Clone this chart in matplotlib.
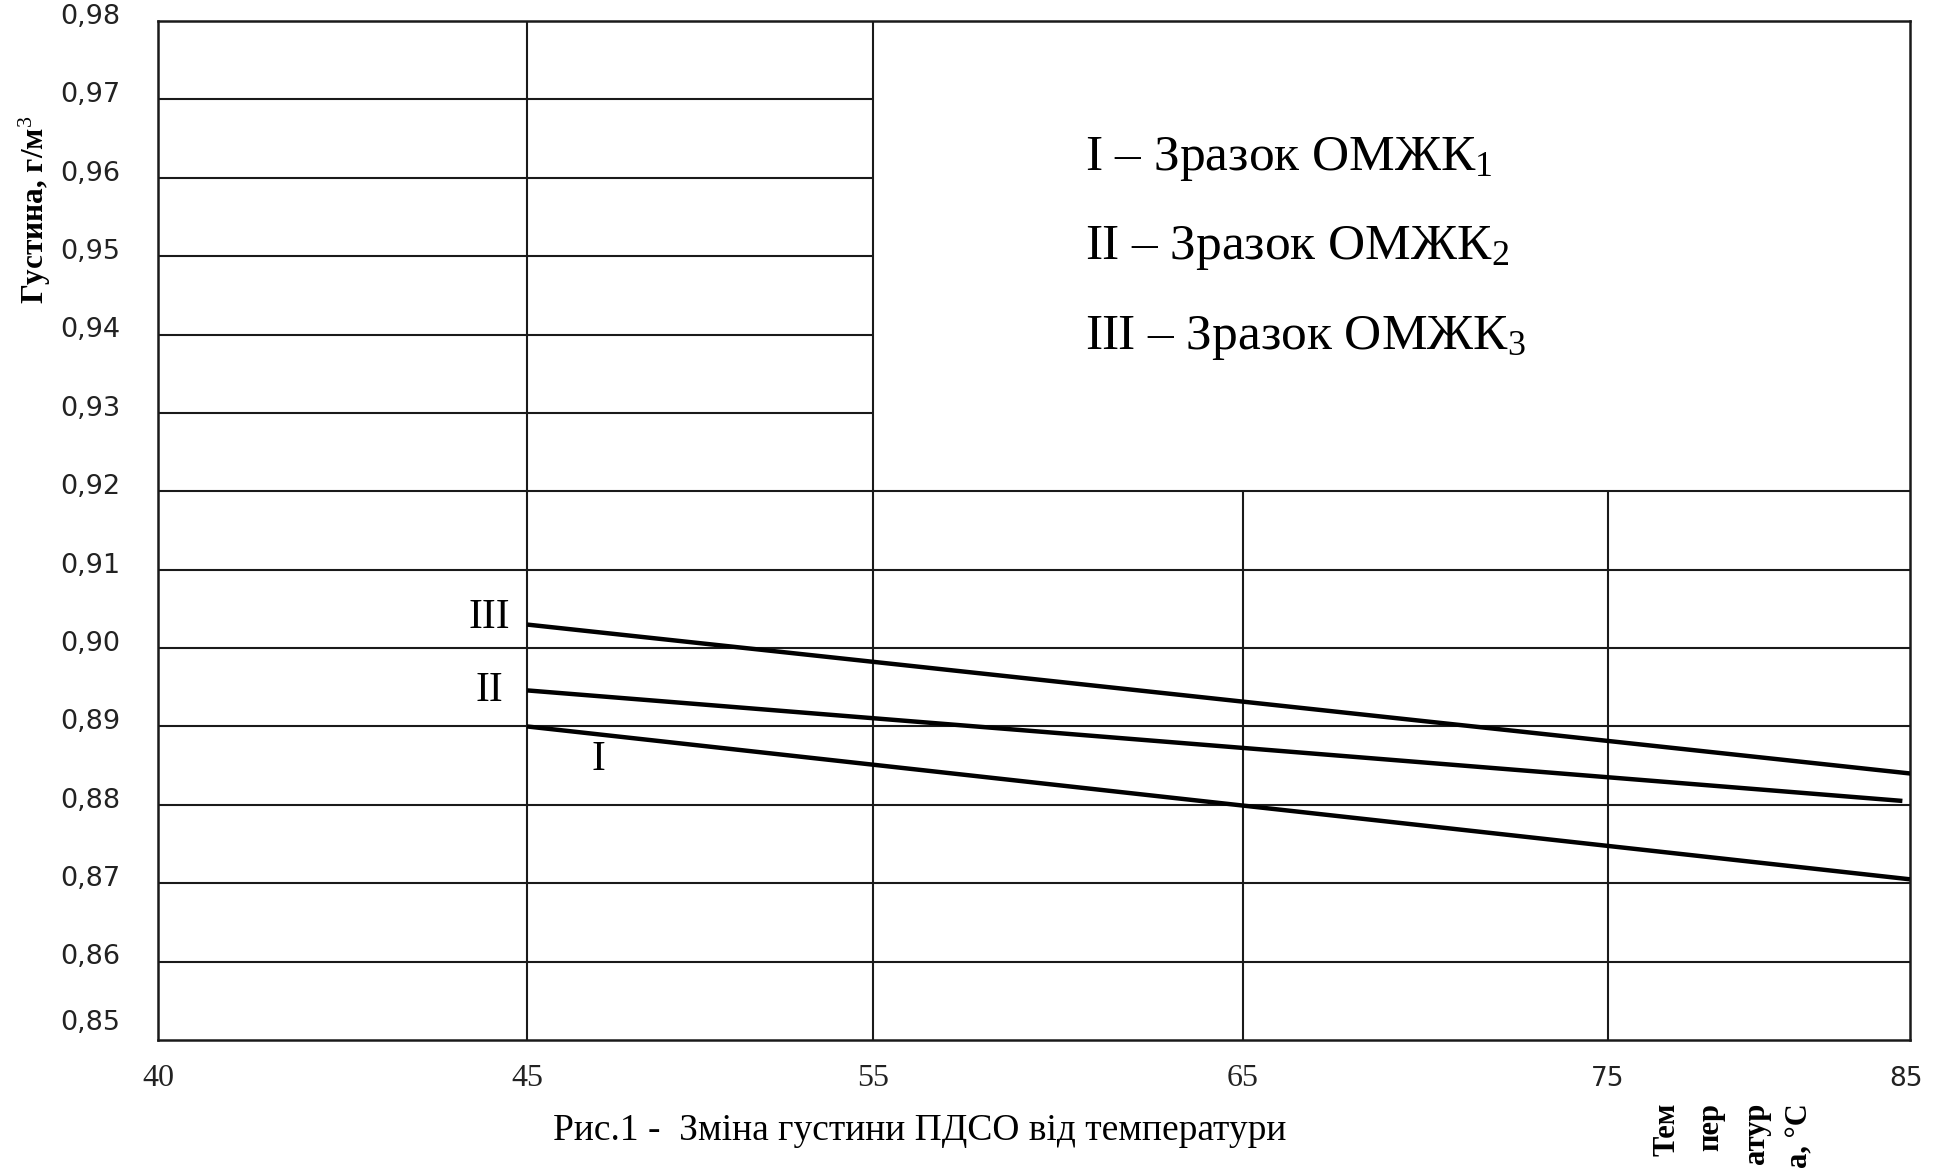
import numpy as np
import matplotlib
matplotlib.use("Agg")
import matplotlib.pyplot as plt

plt.rcParams["mathtext.fontset"] = "custom"
plt.rcParams["mathtext.rm"] = "Liberation Serif"
plt.rcParams["mathtext.it"] = "Liberation Serif:italic"

# temperature ticks and density ticks
temps = [40, 45, 55, 65, 75, 85]
densities = [0.98, 0.97, 0.96, 0.95, 0.94, 0.93, 0.92, 0.91, 0.90, 0.89, 0.88, 0.87, 0.86, 0.85]

# density curves for the three samples (start, end)
sample_names = ["I", "II", "III"]
sample_t = [[45, 85.0], [45, 84.75], [45, 85.25]]
sample_rho = [[0.8900, 0.8705], [0.8946, 0.8805], [0.9030, 0.8839]]

legend_lines = [
    "I – Зразок ОМЖК$_1$",
    "II – Зразок ОМЖК$_2$",
    "III – Зразок ОМЖК$_3$",
]

# column widths of the hand-drawn table are uneven
col_frac = [0.0, 0.2107, 0.4083, 0.6191, 0.8275, 1.0]
last_slope = (col_frac[-1] - col_frac[-2]) / (temps[-1] - temps[-2])


def fwd(x):
    x = np.asarray(x, dtype=float)
    return np.interp(x, temps, col_frac) + np.clip(x - temps[-1], 0, None) * last_slope


def inv(f):
    f = np.asarray(f, dtype=float)
    return np.interp(f, col_frac, temps) + np.clip(f - 1.0, 0, None) / last_slope


fig = plt.figure(figsize=(19.41, 11.68), dpi=100)
ax = fig.add_axes([0.0814, 0.1096, 0.9026, 0.8724])
ax.set_xscale("function", functions=(fwd, inv))
ax.set_xlim(40, 85)
ax.set_ylim(0.85, 0.98)

grid_kw = dict(color="#1a1a1a", linewidth=1.5, zorder=1)
# upper part of the table: only the left two columns are ruled
for y in densities[1:6]:
    ax.hlines(y, 40, 55, **grid_kw)
for y in densities[6:-1]:
    ax.hlines(y, 40, 85, **grid_kw)
ax.vlines([45, 55], 0.85, 0.98, **grid_kw)
ax.vlines([65, 75], 0.85, 0.92, **grid_kw)

for sp in ax.spines.values():
    sp.set_linewidth(1.8)
    sp.set_color("#1a1a1a")

ax.set_xticks([])
ax.set_yticks([])

for t, r in zip(sample_t, sample_rho):
    ax.plot(t, r, color="black", linewidth=3.2, solid_capstyle="butt", zorder=3)

# curve labels
ax.annotate("III", xy=(45, sample_rho[2][0]), xytext=(-27, 5), textcoords="offset points",
            ha="center", va="center", fontsize=30, family="Liberation Serif")
ax.annotate("II", xy=(45, sample_rho[1][0]), xytext=(-27, 0), textcoords="offset points",
            ha="center", va="center", fontsize=30, family="Liberation Serif")
ax.annotate("I", xy=(45, sample_rho[0][0]), xytext=(51, -24), textcoords="offset points",
            ha="center", va="center", fontsize=30, family="Liberation Serif")

# density tick labels
for y in densities:
    ax.annotate(f"{y:.2f}".replace(".", ","), xy=(0, y), xycoords=("axes fraction", "data"),
                xytext=(-27, 3 if y > 0.85 else 12), textcoords="offset points",
                ha="right", va="center", fontsize=19.5, family="DejaVu Sans", color="#222222")

# temperature tick labels
for t in temps:
    fam = "DejaVu Sans" if t >= 75 else "Liberation Serif"
    ax.annotate(str(t), xy=(t, 0), xycoords=("data", "axes fraction"),
                xytext=(-3 if t == 85 else 0, -28), textcoords="offset points",
                ha="center", va="center", fontsize=23 if t < 75 else 19,
                family=fam, color="#222222")

for i, txt in enumerate(legend_lines):
    fig.text(1085 / 1941, 1 - (159 + 89.5 * i) / 1168, txt, ha="left", va="center",
             fontsize=37, family="Liberation Serif")

fig.text(35 / 1941, 1 - 210 / 1168, "Густина, г/м$^3$", rotation=90, ha="center", va="center",
         fontsize=22.5, family="Liberation Serif", fontweight="bold")

# x-axis title, broken into narrow columns
for x, part in zip([1667, 1711, 1756, 1800], ["Тем", "пер", "атур", "а, °С"]):
    fig.text(x / 1941, 1 - 1103 / 1168, part, rotation=90, rotation_mode="anchor",
             ha="right", va="center", fontsize=22, family="Liberation Serif", fontweight="bold")

fig.text(920 / 1941, 1 - 1131 / 1168, "Рис.1 -  Зміна густини ПДСО від температури",
         ha="center", va="center", fontsize=27, family="Liberation Serif")

fig.savefig("out.png", dpi=100)
